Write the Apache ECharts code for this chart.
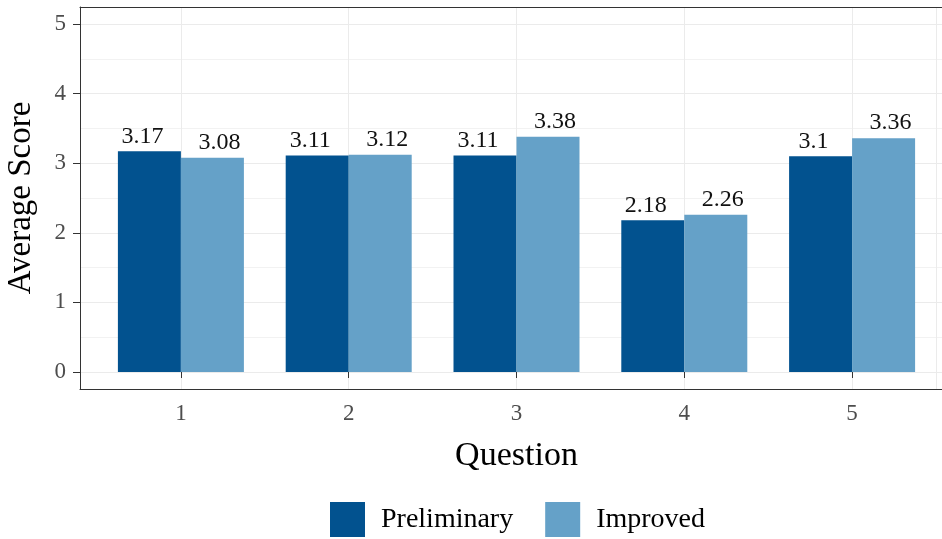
<!DOCTYPE html>
<html><head><meta charset="utf-8">
<script src="https://cdn.jsdelivr.net/npm/echarts@6/dist/echarts.min.js"></script>
<style>html,body{margin:0;padding:0;background:#fff}#c{width:942px;height:539px}</style>
</head><body><div id="c"></div>
<script>
const categories = ['1','2','3','4','5'];
const preliminary = [3.17, 3.11, 3.11, 2.18, 3.10];
const improved = [3.08, 3.12, 3.38, 2.26, 3.36];
const yTicks = [0,1,2,3,4,5];
const seriesNames = ['Preliminary','Improved'];
const colors = ['#02528F','#65A1C8'];
const FONT = 'Liberation Serif';

const chart = echarts.init(document.getElementById('c'), null, {renderer:'canvas'});
const lbl = (off) => ({show:true, position:'top', distance:3, offset:[off,0], color:'#111', fontFamily:FONT, fontSize:24,
  formatter: p => String(p.value)});
const borderAxis = (extra) => Object.assign({gridIndex:0, type:'value', min:0, max:1,
  axisLine:{show:true, onZero:false, lineStyle:{color:'#333', width:1}},
  axisTick:{show:false}, axisLabel:{show:false}, splitLine:{show:false}}, extra);
chart.setOption({
  animation:false,
  textStyle:{fontFamily:FONT},
  grid:[
    // panel (border drawn by axis lines; right edge lies beyond the canvas)
    {left:80, right:0, top:7, bottom:150, outerBoundsMode:'none'},
    // y scale
    {left:80, right:0, top:24, bottom:167, outerBoundsMode:'none'},
    // bars
    {left:97, right:6, top:24, bottom:167, outerBoundsMode:'none'},
    // vertical grid lines
    {left:97, right:6, top:7, bottom:150, outerBoundsMode:'none'}
  ],
  xAxis:[
    borderAxis({position:'bottom'}),
    {gridIndex:1, type:'value', min:0, max:1, show:false, splitLine:{show:false}},
    {gridIndex:2, type:'category', data:categories, offset:17,
     axisLine:{show:false},
     axisTick:{show:true, alignWithLabel:true, length:6, lineStyle:{color:'#333'}},
     axisLabel:{color:'#4D4D4D', fontSize:23, margin:13, fontFamily:FONT},
     splitLine:{show:false},
     name:'Question', nameLocation:'middle', nameGap:50,
     nameTextStyle:{color:'#000', fontSize:34, fontFamily:FONT}},
    {gridIndex:3, type:'category', data:Array(10).fill(''), boundaryGap:true,
     axisLine:{show:false}, axisTick:{show:false}, axisLabel:{show:false},
     splitLine:{show:true, interval:(i)=>i%2===1, lineStyle:{color:'#EBEBEB', width:1}}},
    borderAxis({position:'top'})
  ],
  yAxis:[
    borderAxis({position:'left'}),
    {gridIndex:1, type:'value', min:0, max:5, interval:1,
     axisLine:{show:false},
     axisTick:{show:true, length:7, lineStyle:{color:'#333'}},
     axisLabel:{color:'#4D4D4D', fontSize:23, margin:14, fontFamily:FONT,
       formatter:(v)=> yTicks.includes(v) ? String(v) : ''},
     splitLine:{show:true, lineStyle:{color:'#EBEBEB', width:1}},
     minorTick:{show:false, splitNumber:2},
     minorSplitLine:{show:true, lineStyle:{color:'#F2F2F2', width:1}},
     name:'Average Score', nameLocation:'middle', nameGap:42,
     nameTextStyle:{color:'#000', fontSize:33, fontFamily:FONT}},
    {gridIndex:2, type:'value', min:0, max:5, show:false, splitLine:{show:false}},
    {gridIndex:3, type:'value', min:0, max:1, show:false, splitLine:{show:false}}
  ],
  legend:{bottom:2, left:330, padding:0, itemWidth:35, itemHeight:35, itemGap:32,
    icon:'rect', data:seriesNames,
    textStyle:{fontSize:28, color:'#000', fontFamily:FONT, padding:[0,0,0,11]}},
  series:[
    {name:seriesNames[0], type:'bar', xAxisIndex:2, yAxisIndex:2, data:preliminary,
     barWidth:63, barGap:'0%', itemStyle:{color:colors[0]}, label:lbl(-7)},
    {name:seriesNames[1], type:'bar', xAxisIndex:2, yAxisIndex:2, data:improved,
     barWidth:63, barGap:'0%', itemStyle:{color:colors[1]}, label:lbl(7)}
  ]
});
</script></body></html>
